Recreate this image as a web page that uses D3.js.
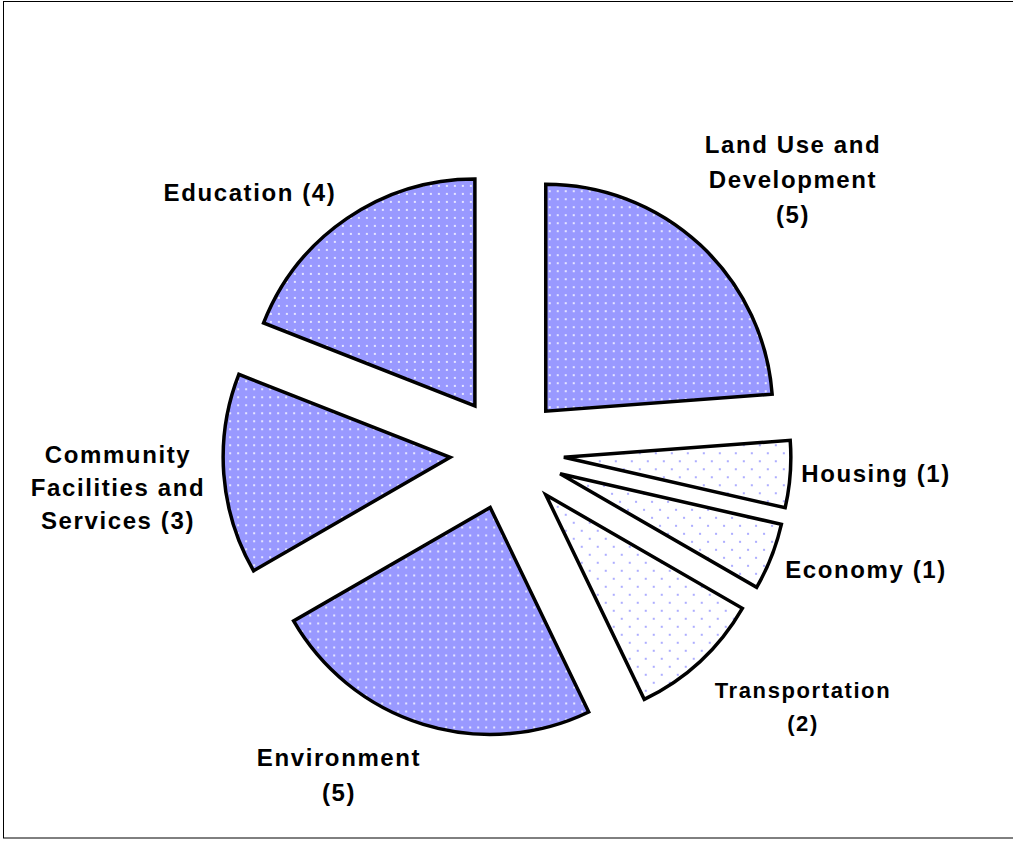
<!DOCTYPE html>
<html>
<head>
<meta charset="utf-8">
<script src="https://cdn.jsdelivr.net/npm/d3@7"></script>
<style>
  html, body { margin: 0; padding: 0; background: #fff; }
  svg { display: block; }
  text { font-family: "Liberation Sans", Arial, sans-serif; font-weight: bold; fill: #000; }
</style>
</head>
<body>
<svg id="chart" width="1013" height="841"></svg>
<script>
// ---- data ----
const categories = ["Land Use and Development", "Housing", "Economy", "Transportation", "Environment", "Community Facilities and Services", "Education"];
const values = [5, 1, 1, 2, 5, 3, 4];
const labelLines = [
  ["Land Use and", "Development", "(5)"],
  ["Housing (1)"],
  ["Economy (1)"],
  ["Transportation", "(2)"],
  ["Environment", "(5)"],
  ["Community", "Facilities and", "Services (3)"],
  ["Education (4)"]
];
const fillKind = ["dark", "light", "light", "light", "dark", "dark", "dark"];

// ---- layout ----
const W = 1013, H = 841;
const cx = 507, cy = 453, R = 227, explode = 57;
const labelPos = [
  {x: 793, y: 153, size: 24, lh: 35},
  {x: 876, y: 482, size: 24, lh: 28},
  {x: 866, y: 578, size: 24, lh: 28},
  {x: 803, y: 698, size: 22, lh: 33},
  {x: 339, y: 766, size: 24, lh: 35},
  {x: 118, y: 463, size: 24, lh: 33},
  {x: 250, y: 201, size: 24, lh: 28}
];

const svg = d3.select("#chart");
const defs = svg.append("defs");

const pDark = defs.append("pattern").attr("id", "dark").attr("patternUnits", "userSpaceOnUse")
  .attr("width", 8).attr("height", 8);
pDark.append("rect").attr("width", 8).attr("height", 8).attr("fill", "#9999ff");
pDark.append("circle").attr("cx", 4).attr("cy", 4).attr("r", 1.1).attr("fill", "#f8f8ff");

const pLight = defs.append("pattern").attr("id", "light").attr("patternUnits", "userSpaceOnUse")
  .attr("width", 16).attr("height", 16);
pLight.append("rect").attr("width", 16).attr("height", 16).attr("fill", "#ffffff");
pLight.append("circle").attr("cx", 4).attr("cy", 4).attr("r", 1.1).attr("fill", "#9a9aff");
pLight.append("circle").attr("cx", 12).attr("cy", 12).attr("r", 1.1).attr("fill", "#9a9aff");

// frame
svg.append("rect").attr("x", 3.5).attr("y", 1.5).attr("width", W + 10).attr("height", 836.5)
  .attr("fill", "none").attr("stroke", "#000").attr("stroke-width", 1);

const pie = d3.pie().sort(null).value(d => d).startAngle(0).endAngle(2 * Math.PI);
const arcs = pie(values);
const arc = d3.arc().innerRadius(0).outerRadius(R);

const g = svg.append("g").attr("transform", `translate(${cx},${cy})`);
g.selectAll("path").data(arcs).join("path")
  .attr("d", arc)
  .attr("transform", d => {
    const a = (d.startAngle + d.endAngle) / 2;
    return `translate(${explode * Math.sin(a)},${-explode * Math.cos(a)})`;
  })
  .attr("fill", (d, i) => `url(#${fillKind[i]})`)
  .attr("stroke", "#000").attr("stroke-width", 3.5).attr("stroke-linejoin", "miter");

// labels
labelLines.forEach((lines, i) => {
  const p = labelPos[i];
  const t = svg.append("text").attr("text-anchor", "middle")
    .style("font-size", p.size + "px").style("letter-spacing", "1.6px");
  lines.forEach((ln, j) => {
    t.append("tspan").attr("x", p.x).attr("y", p.y + j * p.lh).text(ln);
  });
});
</script>
</body>
</html>
